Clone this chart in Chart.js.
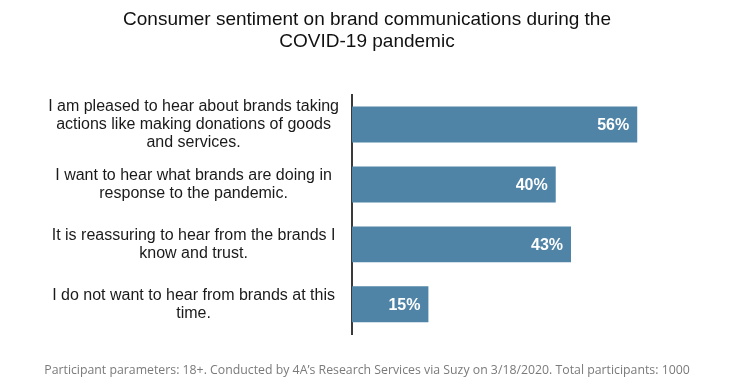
<!DOCTYPE html>
<html>
<head>
<meta charset="utf-8">
<script src="https://cdn.jsdelivr.net/npm/chart.js@4"></script>
<style>
  body { margin: 0; background: #fff; }
</style>
</head>
<body>
<canvas id="chart" width="755" height="388"></canvas>
<script>
const categories = [
    ['I am pleased to hear about brands taking', 'actions like making donations of goods', 'and services.'],
    ['I want to hear what brands are doing in', 'response to the pandemic.'],
    ['It is reassuring to hear from the brands I', 'know and trust.'],
    ['I do not want to hear from brands at this', 'time.']
];
const values = [56, 40, 43, 15];
const titleLines = ['Consumer sentiment on brand communications during the', 'COVID-19 pandemic'];
const footnote = 'Participant parameters: 18+. Conducted by 4A\u2019s Research Services via Suzy on 3/18/2020. Total participants: 1000';

// white % labels at the end of each bar
const valueLabels = {
    id: 'valueLabels',
    afterDatasetsDraw(chart) {
        const ctx = chart.ctx;
        const meta = chart.getDatasetMeta(0);
        ctx.save();
        ctx.fillStyle = '#ffffff';
        ctx.font = 'bold 16px "Liberation Sans", Arial, sans-serif';
        ctx.textAlign = 'right';
        ctx.textBaseline = 'middle';
        meta.data.forEach((bar, i) => {
            ctx.fillText(values[i] + '%', bar.x - 8, bar.y + 1);
        });
        ctx.restore();
    }
};

new Chart(document.getElementById('chart'), {
    type: 'bar',
    data: {
        labels: categories,
        datasets: [{
            data: values,
            backgroundColor: '#4f84a6',
            barPercentage: 0.6,
            categoryPercentage: 1
        }]
    },
    options: {
        indexAxis: 'y',
        responsive: false,
        animation: false,
        layout: { padding: { left: 0, right: 21, top: 0, bottom: 0 } },
        plugins: {
            legend: { display: false },
            tooltip: { enabled: false },
            title: {
                display: true,
                text: titleLines,
                color: '#111',
                font: { family: '"Liberation Sans", Arial, sans-serif', size: 19, weight: 'normal', lineHeight: 1.2 },
                padding: { top: 8, bottom: 41 }
            },
            subtitle: {
                display: true,
                position: 'bottom',
                text: footnote,
                color: '#7a7a7a',
                font: { family: '"Open Sans", sans-serif', size: 12.3, weight: 'normal', lineHeight: 1.2 },
                padding: { top: 29, bottom: 10 }
            }
        },
        scales: {
            x: {
                display: false,
                min: 0,
                max: 75
            },
            y: {
                grid: { display: false, drawTicks: false },
                border: { display: true, color: '#3a3a3a', width: 2 },
                afterFit(scale) { scale.width = 352; },
                ticks: {
                    color: '#1a1a1a',
                    padding: 13,
                    crossAlign: 'center',
                    font: { family: '"Liberation Sans", Arial, sans-serif', size: 16, lineHeight: 1.125 }
                }
            }
        }
    },
    plugins: [valueLabels]
});
</script>
</body>
</html>
